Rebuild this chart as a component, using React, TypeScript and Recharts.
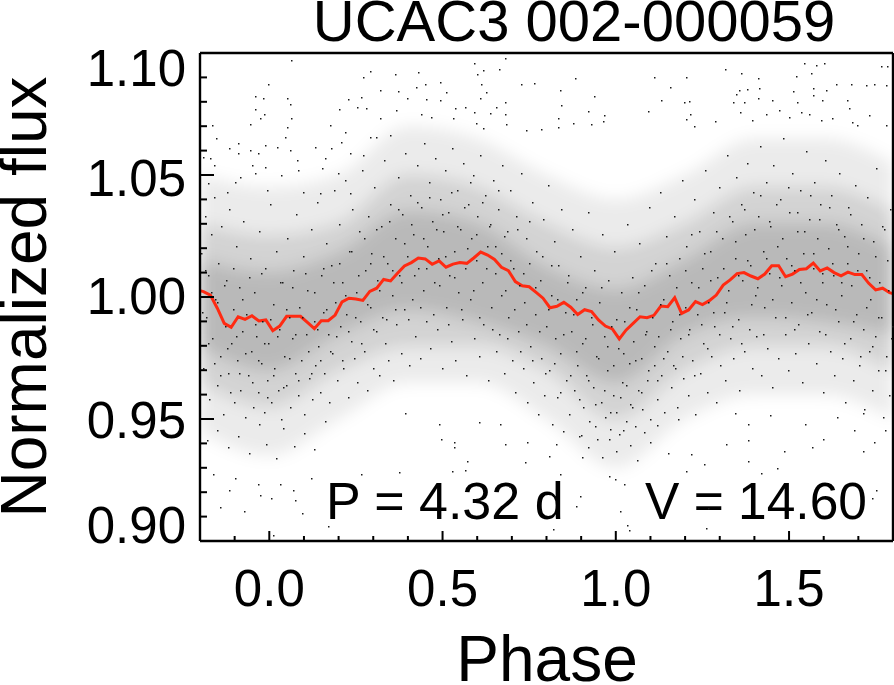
import { Area, ComposedChart, Line, Scatter, XAxis, YAxis } from "recharts";

// red running mean
const curve = [
  [-0.2,1.0026],[-0.19,1.0022],[-0.17,1.0008],[-0.15,0.9954],[-0.13,0.9892],[-0.11,0.9876],[-0.09,0.9919],[-0.07,0.9908],[-0.05,0.9923],[-0.03,0.9902],[-0.01,0.9906],
  [0.01,0.9862],[0.03,0.9881],[0.05,0.9921],[0.07,0.9921],[0.09,0.9921],[0.11,0.9896],[0.13,0.987],[0.15,0.9903],[0.17,0.9903],[0.19,0.9926],
  [0.21,0.998],[0.23,0.9995],[0.25,0.9992],[0.27,0.9986],[0.29,1.0023],[0.31,1.0036],[0.33,1.0072],[0.35,1.0066],[0.37,1.0097],[0.39,1.0127],
  [0.41,1.0141],[0.43,1.016],[0.45,1.0156],[0.47,1.0134],[0.49,1.0148],[0.51,1.0122],[0.53,1.0135],[0.55,1.0141],[0.57,1.0138],[0.59,1.016],
  [0.61,1.0184],[0.63,1.0172],[0.65,1.0154],[0.67,1.0122],[0.69,1.0108],[0.71,1.0063],[0.73,1.0046],[0.75,1.0042],[0.77,1.0019],[0.79,0.9995],
  [0.81,0.9956],[0.83,0.9962],[0.85,0.9978],[0.87,0.9958],[0.89,0.9928],[0.91,0.9948],[0.93,0.994],[0.95,0.9906],[0.97,0.9881],[0.99,0.9869],
  [1.01,0.9828],[1.03,0.9865],[1.05,0.9892],[1.07,0.9919],[1.09,0.9915],[1.11,0.9925],[1.13,0.9963],[1.15,0.996],[1.17,0.9997],[1.19,0.9933],
  [1.21,0.9947],[1.23,0.9981],[1.25,0.9969],[1.27,0.9985],[1.29,1.0008],[1.31,1.0049],[1.33,1.007],[1.35,1.0096],[1.37,1.01],[1.39,1.0086],
  [1.41,1.0075],[1.43,1.0094],[1.45,1.0128],[1.47,1.0128],[1.49,1.0083],[1.51,1.0094],[1.53,1.0113],[1.55,1.0116],[1.57,1.0139],[1.59,1.0107],
  [1.61,1.0119],[1.63,1.01],[1.65,1.0087],[1.67,1.0102],[1.69,1.0092],[1.71,1.0092],[1.73,1.0056],[1.75,1.0029],[1.77,1.0036],[1.79,1.0018],[1.8,1.0014],
];

// how far the stipple spreads at each phase: faint edge, mid tone, dark core
const bandPhase = [-0.2, 0, 0.2, 0.4, 0.6, 0.8, 1.0, 1.2, 1.4, 1.6, 1.8];
const wideLow = [0.945, 0.935, 0.95, 0.965, 0.965, 0.95, 0.93, 0.95, 0.96, 0.96, 0.95];
const wideHigh = [1.05, 1.045, 1.05, 1.07, 1.065, 1.05, 1.04, 1.05, 1.065, 1.065, 1.055];
const midLow = [0.965, 0.955, 0.97, 0.98, 0.98, 0.97, 0.95, 0.97, 0.98, 0.98, 0.97];
const midHigh = [1.03, 1.025, 1.03, 1.05, 1.045, 1.03, 1.02, 1.03, 1.045, 1.045, 1.035];
const coreLow = [0.98, 0.97, 0.985, 0.995, 0.99, 0.98, 0.965, 0.985, 0.992, 0.99, 0.985];
const coreHigh = [1.015, 1.01, 1.018, 1.035, 1.03, 1.012, 1.003, 1.015, 1.03, 1.03, 1.02];

// sparse points above the cloud
const upperPoints = [
  [.59,1.0961],[.616,1.093],[.6,1.0914],[.663,1.0933],[.681,1.0978],[.727,1.0875],[.765,1.0878],[.881,1.0899],[.839,1.0848],[.938,1.0825],
  [1.111,1.09],[1.204,1.09],[1.157,1.0862],[1.315,1.0933],[1.361,1.0916],[1.409,1.0896],[1.543,1.0957],[1.577,1.095],[1.601,1.096],[1.563,1.0916],
  [1.521,1.0905],[1.764,1.0946],[1.784,1.0946],[1.635,1.0875],[1.678,1.0875],[1.721,1.0869],[1.745,1.0871],[1.779,1.0869],[1.568,1.0855],[1.606,1.0848],
  [1.512,1.0845],[1.356,1.0848],[1.38,1.0852],[1.414,1.0855],[1.347,1.0834],[1.337,1.08],[1.371,1.0798],[1.409,1.0817],[1.45,1.0807],[1.524,1.0798],
  [1.568,1.0828],[1.596,1.0807],[1.668,1.0807],[1.673,1.0773],[1.13,1.0807],[1.198,1.0798],[1.212,1.0804],[1.094,1.0763],[1.214,1.0752],[1.204,1.0728],
  [.919,1.0762],[.967,1.0746],[.962,1.0721],[.833,1.0732],[.834,1.0695],[.842,1.0787],[.681,1.0798],[.655,1.078],[.612,1.0875],[.626,1.0841],
  [.607,1.0814],[.592,1.0759],[.636,1.0755],[.679,1.0752],[.564,1.078],[.535,1.0773],[.511,1.0841],[.494,1.0807],[.53,1.0732],[.597,1.0712],
  [.684,1.0709],[.616,1.0691],[1.359,1.0759],[1.394,1.0725],[1.433,1.0752],[1.471,1.0766],[1.534,1.0759],[1.558,1.0752],[1.591,1.0725],[1.683,1.0718],
  [1.697,1.0705],[1.731,1.0746],[1.779,1.0705],[1.625,1.0732],[1.5,1.0739],[1.287,1.0722],[1.226,1.07],[.741,1.0684],[.785,1.0687],[.876,1.0714],[.929,1.0709],
  [.062,1.0971],[-.003,1.0873],[.29,1.0927],[.271,1.0903],[.364,1.0912],[.429,1.0923],[.449,1.0875],[.494,1.088],[.372,1.0844],[.319,1.0848],
  [.424,1.0859],[-.041,1.0824],[-.017,1.0817],[.05,1.0814],[.059,1.0789],[-.041,1.077],[-.015,1.0752],[-.027,1.0732],[.064,1.0732],[.05,1.0698],
  [-.056,1.0711],[-.166,1.0705],[.228,1.0811],[.266,1.0821],[.252,1.078],[.201,1.077],[.28,1.0773],[.319,1.0732],[.396,1.0814],[.453,1.081],
  [.367,1.0766],[.439,1.0752],[.468,1.0739],[.175,1.0705],[.218,1.0677],[-.155,1.065],[-.116,1.0612],[-.089,1.063],[-.056,1.0602],[.045,1.0657],
  [.021,1.0613],[-.013,1.0623],[.133,1.0616],[.178,1.0609],[.208,1.0634],[.29,1.0657],[.309,1.0657],[.348,1.0664],[-.089,1.0589],[-.171,1.0568],
  [-.161,1.0541],[-.19,1.0575],[-.032,1.0591],[.059,1.0602],[.232,1.0589],[.271,1.0582],[-.051,1.0541],[-.013,1.0534],[.079,1.0561],[.16,1.0568],
  [.151,1.0527],[.199,1.0507],[-.085,1.0493],[-.041,1.0507],[.035,1.05],[.084,1.052],[-.176,1.0466],[-.123,1.0431],[-.099,1.0472],[-.008,1.0438],[.098,1.0431],[.232,1.0425],[.146,1.0425],
];

// sparse points below the cloud
const lowerPoints = [
  [-.072,.9121],[-.143,.9138],[-.117,.9207],[-.028,.919],[.004,.9176],[.074,.917],[.093,.9114],[.17,.9063],[.01,.9024],[.03,.9232],
  [.068,.9211],[.119,.926],[-.162,.9273],[-.098,.926],[-.034,.9232],[.266,.9273],[.374,.9284],[.527,.9287],[.565,.929],[.693,.9225],
  [.82,.9049],[.897,.9183],[.884,.9142],[1.012,.9121],[1.031,.9066],[1.037,.9045],[1.26,.9052],[1.267,.9135],[1.739,.9176],[1.752,.9211],
  [1.42,.928],[1.465,.9301],[.999,.9253],[.98,.9266],[1.024,.9232],[1.203,.9287],[1.382,.9329],[.533,.9405],[.533,.9384],[.495,.9419],
  [.572,.9329],[.68,.9398],[.744,.9405],[.827,.9398],[.808,.935],[.84,.9273],[.738,.9322],[.903,.9343],[1.567,.9384],[1.599,.9419],
  [1.713,.937],[1.745,.9405],[1.484,.937],[1.382,.9412],[1.318,.9398],[1.254,.9315],[1.216,.9356],[.393,.9523],[.489,.9481],[.604,.9488],
  [.667,.9481],[1.343,.9523],[1.382,.9481],[1.445,.9516],[1.547,.9481],[1.637,.9509],[1.713,.9523],[1.777,.9453],[1.688,.9453],
  [-.18,.9412],[-.15,.9453],[-.12,.9385],[-.09,.9431],[-.06,.9362],[-.03,.9478],[-.01,.9397],[.02,.9342],[.04,.9465],[.07,.9388],[.1,.9443],[.13,.9376],[.16,.9492],
  [.9,.9435],[.92,.9386],[.94,.9472],[.96,.9345],[.98,.9418],[1.0,.9367],[1.02,.9456],[1.04,.9392],[1.06,.9331],[1.08,.9448],[1.1,.9405],[1.12,.9476],[1.15,.9362],[1.18,.9498],
];

// the thick of the cloud, a hand estimate of where the dots lie
const corePoints = [
  [-.196,1.018],[-.191,.971],[-.187,1.033],[-.183,.992],[-.178,1.009],[-.174,.958],[-.169,1.026],[-.165,.983],[-.16,1.041],[-.156,.999],
  [-.151,.964],[-.147,1.014],[-.142,.976],[-.138,1.029],[-.133,.952],[-.129,.988],[-.124,1.007],[-.12,.969],[-.115,1.036],[-.111,.981],
  [-.106,.995],[-.102,.957],[-.097,1.021],[-.093,.974],[-.088,1.004],[-.084,.962],[-.079,.986],[-.075,1.031],[-.07,.951],[-.066,.993],
  [-.061,.968],[-.057,1.016],[-.052,.978],[-.048,.955],[-.043,1.002],[-.039,.984],[-.034,.961],[-.03,1.027],[-.025,.973],[-.021,.99],
  [-.016,.953],[-.012,1.012],[-.007,.966],[-.003,.981],[.002,1.038],[.006,.957],[.011,.997],[.015,.971],[.02,1.019],[.024,.962],
  [.029,.987],[.033,.95],[.038,1.006],[.042,.976],[.047,.964],[.051,1.024],[.056,.992],[.06,.955],[.065,.983],[.069,1.011],
  [.074,.969],[.078,1.034],[.083,.96],[.087,.996],[.092,.974],[.096,1.017],[.101,.952],[.105,.985],[.11,1.003],[.114,.967],
  [.119,1.028],[.123,.958],[.128,.99],[.132,.972],[.137,1.039],[.141,.98],[.146,.961],[.15,1.009],[.155,.994],[.159,.969],
  [.164,1.022],[.168,.985],[.173,.957],[.177,1.013],[.182,.977],[.186,1.044],[.191,.998],[.195,.966],[.2,1.03],[.204,.988],
  [.209,1.006],[.213,.971],[.218,1.048],[.222,.993],[.227,.959],[.231,1.019],[.236,.982],[.24,1.036],[.245,.975],[.249,1.002],
  [.254,.965],[.258,1.027],[.263,.99],[.267,1.052],[.272,.978],[.276,1.011],[.281,.962],[.285,1.033],[.29,.996],[.294,1.018],
  [.299,.971],[.303,1.045],[.308,.986],[.312,1.007],[.317,.968],[.321,1.029],[.326,.992],[.33,1.056],[.335,.981],[.339,1.014],
  [.344,.974],[.348,1.038],[.353,1.001],[.357,.966],[.362,1.024],[.366,.989],[.371,1.049],[.375,1.009],[.38,.977],[.384,1.034],
  [.389,.995],[.393,1.059],[.398,1.017],[.402,.972],[.407,1.042],[.411,.999],[.416,1.026],[.42,.984],[.425,1.054],[.429,1.012],
  [.434,.975],[.438,1.037],[.443,1.003],[.447,1.063],[.452,.99],[.456,1.021],[.461,1.047],[.465,.979],[.47,1.031],[.474,1.006],
  [.479,1.057],[.483,.987],[.488,1.016],[.492,1.04],[.497,.971],[.501,1.027],[.506,1.052],[.51,.996],[.515,1.035],[.519,1.009],
  [.524,.982],[.528,1.061],[.533,1.019],[.537,.974],[.542,1.044],[.546,1.002],[.551,1.028],[.555,.991],[.56,1.055],[.564,1.012],
  [.569,.968],[.573,1.038],[.578,.999],[.582,1.024],[.587,1.05],[.591,.983],[.596,1.015],[.6,1.033],[.605,.976],[.609,1.058],
  [.614,1.006],[.618,.989],[.623,1.042],[.627,1.021],[.632,.966],[.636,1.03],[.641,.996],[.645,1.048],[.65,1.01],[.654,.978],
  [.659,1.036],[.663,.985],[.668,1.018],[.672,1.054],[.677,.969],[.681,1.003],[.686,1.027],[.69,.992],[.695,1.044],[.699,.974],
  [.704,1.012],[.708,.961],[.713,1.033],[.717,.986],[.722,1.005],[.726,1.051],[.731,.971],[.735,.998],[.74,1.024],[.744,.957],
  [.749,1.014],[.753,.98],[.758,1.039],[.762,.965],[.767,.993],[.771,1.019],[.776,.952],[.78,1.007],[.785,.975],[.789,1.032],
  [.794,.96],[.798,.988],[.803,1.046],[.807,.97],[.812,1.001],[.816,.948],[.821,1.023],[.825,.983],[.83,.959],[.834,1.013],
  [.839,.977],[.843,1.036],[.848,.945],[.852,.994],[.857,.966],[.861,1.009],[.866,.952],[.87,.986],[.875,1.028],[.879,.962],
  [.884,.999],[.888,.972],[.893,.943],[.897,1.017],[.902,.981],[.906,.955],[.911,1.004],[.915,.968],[.92,1.035],[.924,.949],
  [.929,.992],[.933,.963],[.938,1.011],[.942,.976],[.947,.942],[.951,.998],[.956,.957],[.96,1.026],[.965,.984],[.969,.951],
  [.974,.97],[.978,1.007],[.983,.946],[.987,.988],[.992,.96],[.996,1.019],[1.001,.953],[1.005,.979],[1.01,.944],[1.014,1.002],
  [1.019,.965],[1.023,.99],[1.028,.949],[1.032,1.03],[1.037,.973],[1.041,.956],[1.046,1.008],[1.05,.982],[1.055,.947],[1.059,.995],
  [1.064,.962],[1.068,1.022],[1.073,.975],[1.077,.954],[1.082,1.005],[1.086,.986],[1.091,.966],[1.095,1.037],[1.1,.95],[1.104,.992],
  [1.109,.972],[1.113,1.014],[1.118,.958],[1.122,.984],[1.127,1.043],[1.131,.968],[1.136,.999],[1.14,.953],[1.145,1.025],[1.149,.978],
  [1.154,1.009],[1.158,.963],[1.163,.99],[1.167,1.033],[1.172,.971],[1.176,.955],[1.181,1.016],[1.185,.983],[1.19,1.048],[1.194,.967],
  [1.199,.996],[1.203,1.021],[1.208,.96],[1.212,.987],[1.217,1.006],[1.221,.974],[1.226,1.04],[1.23,.952],[1.235,.993],[1.239,1.027],
  [1.244,.969],[1.248,1.012],[1.253,.981],[1.257,1.052],[1.262,.961],[1.266,.998],[1.271,1.019],[1.275,.976],[1.28,1.035],[1.284,.988],
  [1.289,.957],[1.293,1.008],[1.298,1.045],[1.302,.972],[1.307,1.024],[1.311,.994],[1.316,.966],[1.32,1.058],[1.325,1.003],[1.329,.983],
  [1.334,1.031],[1.338,.975],[1.343,1.016],[1.347,1.049],[1.352,.991],[1.356,.962],[1.361,1.038],[1.365,1.007],[1.37,.978],[1.374,1.026],
  [1.379,1.055],[1.383,.987],[1.388,1.013],[1.392,.971],[1.397,1.043],[1.401,1.001],[1.406,.984],[1.41,1.033],[1.415,1.062],[1.419,.968],
  [1.424,1.019],[1.428,.996],[1.433,1.047],[1.437,.979],[1.442,1.01],[1.446,1.029],[1.451,.963],[1.455,1.054],[1.46,.992],[1.464,1.021],
  [1.469,.975],[1.473,1.04],[1.478,1.005],[1.482,1.065],[1.487,.985],[1.491,1.016],[1.496,.97],[1.5,1.035],[1.505,.998],[1.509,1.051],
  [1.514,1.011],[1.518,.977],[1.523,1.027],[1.527,.989],[1.532,1.044],[1.536,.965],[1.541,1.018],[1.545,1.002],[1.55,1.06],[1.554,.981],
  [1.559,1.032],[1.563,.994],[1.568,1.012],[1.572,1.047],[1.577,.973],[1.581,1.024],[1.586,.986],[1.59,1.038],[1.595,1.006],[1.599,.961],
  [1.604,1.056],[1.608,.997],[1.613,1.02],[1.617,.978],[1.622,1.042],[1.626,1.009],[1.631,.968],[1.635,1.03],[1.64,.99],[1.644,1.051],
  [1.649,1.001],[1.653,.975],[1.658,1.025],[1.662,.957],[1.667,1.014],[1.671,1.037],[1.676,.983],[1.68,1.005],[1.685,.966],[1.689,1.046],
  [1.694,.993],[1.698,1.018],[1.703,.972],[1.707,1.03],[1.712,.987],[1.716,.954],[1.721,1.011],[1.725,1.041],[1.73,.978],[1.734,.999],
  [1.739,.962],[1.743,1.023],[1.748,.984],[1.752,1.053],[1.757,.97],[1.761,1.006],[1.766,.992],[1.77,.951],[1.775,1.028],[1.779,.976],
  [1.784,1.015],[1.788,.96],[1.792,1.036],[1.796,.988],
];

// second pass over the darkest stretch close to the curve
const densePoints = [
  [-.193,.994],[-.185,1.011],[-.176,.981],[-.168,1.002],[-.159,.973],[-.15,.998],[-.141,.968],[-.132,1.005],[-.123,.979],[-.114,.961],
  [-.105,1.012],[-.096,.984],[-.087,.969],[-.078,.999],[-.069,.977],[-.06,1.008],[-.051,.965],[-.042,.989],[-.033,.974],[-.024,1.01],
  [-.015,.981],[-.006,.959],[.003,.991],[.012,.968],[.021,.984],[.03,1.006],[.039,.963],[.048,.995],[.057,.975],[.066,1.004],
  [.075,.985],[.084,.966],[.093,.992],[.102,1.01],[.111,.978],[.12,.969],[.129,1.002],[.138,.987],[.147,.974],[.156,1.012],
  [.165,.995],[.174,.978],[.183,1.006],[.192,.984],[.201,1.014],[.21,.974],[.219,1.001],[.228,.986],[.237,1.019],[.246,.992],
  [.255,1.009],[.264,.981],[.273,1.024],[.282,.997],[.291,1.014],[.3,.987],[.309,1.028],[.318,1.003],[.327,1.017],[.336,.991],
  [.345,1.031],[.354,1.011],[.363,.995],[.372,1.036],[.381,1.006],[.39,1.022],[.399,.991],[.408,1.03],[.417,1.009],[.426,1.039],
  [.435,.996],[.444,1.024],[.453,1.012],[.462,1.041],[.471,.993],[.48,1.028],[.489,1.005],[.498,1.034],[.507,1.017],[.516,.989],
  [.525,1.043],[.534,1.008],[.543,1.029],[.552,.995],[.561,1.037],[.57,1.02],[.579,1.047],[.588,1.003],[.597,1.026],[.606,.992],
  [.615,1.039],[.624,1.012],[.633,1.029],[.642,.987],[.651,1.021],[.66,1.044],[.669,1.001],[.678,1.025],[.687,.983],[.696,1.015],
  [.705,.995],[.714,1.028],[.723,.978],[.732,1.01],[.741,.989],[.75,1.031],[.759,.974],[.768,1.004],[.777,.986],[.786,1.017],
  [.795,.969],[.804,.995],[.813,1.013],[.822,.973],[.831,.999],[.84,.961],[.849,.985],[.858,1.006],[.867,.968],[.876,.993],
  [.885,.978],[.894,.958],[.903,1.002],[.912,.983],[.921,.966],[.93,.989],[.939,.956],[.948,.975],[.957,1.004],[.966,.962],
  [.975,.98],[.984,.953],[.993,.972],[1.002,.991],[1.011,.959],[1.02,.977],[1.029,.964],[1.038,.996],[1.047,.955],[1.056,.974],
  [1.065,1.002],[1.074,.961],[1.083,.985],[1.092,.97],[1.101,1.011],[1.11,.98],[1.119,.966],[1.128,.997],[1.137,.975],[1.146,1.014],
  [1.155,.987],[1.164,.972],[1.173,1.004],[1.182,.993],[1.191,.976],[1.2,1.011],[1.209,.985],[1.218,1.026],[1.227,.968],[1.236,1.004],
  [1.245,.989],[1.254,1.018],[1.263,.979],[1.272,1.007],[1.281,.994],[1.29,1.027],[1.299,.985],[1.308,1.012],[1.317,.998],[1.326,1.033],
  [1.335,.988],[1.344,1.023],[1.353,1.009],[1.362,.981],[1.371,1.036],[1.38,1.015],[1.389,.997],[1.398,1.028],[1.407,1.004],[1.416,1.042],
  [1.425,.985],[1.434,1.016],[1.443,1.031],[1.452,.999],[1.461,1.038],[1.47,1.008],[1.479,1.024],[1.488,.992],[1.497,1.045],[1.506,1.013],
  [1.515,.987],[1.524,1.035],[1.533,1.006],[1.542,1.027],[1.551,.993],[1.56,1.042],[1.569,1.018],[1.578,.999],[1.587,1.032],[1.596,1.01],
  [1.605,.985],[1.614,1.037],[1.623,1.014],[1.632,.995],[1.641,1.028],[1.65,1.006],[1.659,.981],[1.668,1.021],[1.677,1.034],[1.686,.99],
  [1.695,1.011],[1.704,.976],[1.713,1.024],[1.722,.996],[1.731,1.008],[1.74,.98],[1.749,1.017],[1.758,.992],[1.767,1.029],[1.776,.97],[1.785,1.003],[1.794,.983],
];

const xTicks = [-0.2,-0.1,0,0.1,0.2,0.3,0.4,0.5,0.6,0.7,0.8,0.9,1,1.1,1.2,1.3,1.4,1.5,1.6,1.7,1.8];
const xLabels: Record<string, string> = { "0.0": "0.0", "0.5": "0.5", "1.0": "1.0", "1.5": "1.5" };
const yTicks = [0.9,0.91,0.92,0.93,0.94,0.95,0.96,0.97,0.98,0.99,1,1.01,1.02,1.03,1.04,1.05,1.06,1.07,1.08,1.09,1.1];
const yLabels = ["0.90", "0.95", "1.00", "1.05", "1.10"];

const curveRows = curve.map(([phase, flux]) => ({ phase, flux }));
const dotRows = [...upperPoints, ...lowerPoints, ...corePoints, ...densePoints].map(([phase, flux]) => ({ phase, flux }));
const bandRows = bandPhase.map((phase, i) => ({
  phase,
  wide: [wideLow[i], wideHigh[i]],
  mid: [midLow[i], midHigh[i]],
  core: [coreLow[i], coreHigh[i]],
}));

const FONT = "'Liberation Sans', Arial, sans-serif";
const INK = "#000";

function BottomTick({ x, y, payload }: any) {
  const key = payload.value.toFixed(1);
  const major = key in xLabels;
  return (
    <g>
      <line x1={x} x2={x} y1={y} y2={y - (major ? 10 : 5)} stroke={INK} strokeWidth={2} />
      {major && (
        <text x={x} y={y + 65} textAnchor="middle" fontSize={51} fontFamily={FONT} fill={INK}>
          {xLabels[key]}
        </text>
      )}
    </g>
  );
}

function TopTick({ x, y, payload }: any) {
  const major = payload.value.toFixed(1) in xLabels;
  return <line x1={x} x2={x} y1={y} y2={y + (major ? 10 : 5)} stroke={INK} strokeWidth={2} />;
}

function LeftTick({ x, y, payload }: any) {
  const label = payload.value.toFixed(2);
  const major = yLabels.includes(label);
  // the end labels sit inside the frame, as in the original plot
  const shift = label === "1.10" ? 15 : label === "0.90" ? -16 : label === "1.05" ? 3 : label === "1.00" ? -1 : 1;
  return (
    <g>
      <line x1={x} x2={x + (major ? 14 : 7)} y1={y} y2={y} stroke={INK} strokeWidth={2} />
      {major && (
        <text x={186} y={y + shift + 18} textAnchor="end" fontSize={51} fontFamily={FONT} fill={INK}>
          {label}
        </text>
      )}
    </g>
  );
}

function RightTick({ x, y, payload }: any) {
  const major = yLabels.includes(payload.value.toFixed(2));
  return <line x1={x} x2={x - (major ? 14 : 7)} y1={y} y2={y} stroke={INK} strokeWidth={2} />;
}

function Speck({ cx, cy }: any) {
  return <rect x={Math.round(cx)} y={Math.round(cy)} width={1.5} height={1.5} fill="#1a1a1a" />;
}

const axisLine = { stroke: INK, strokeWidth: 2.4 };

export default function App() {
  return (
    <div style={{ position: "absolute", left: 0, top: 0, width: 894, height: 685, background: "#fff" }}>
      {/* css applies the blur first and the clip after it, so the soft bands stay inside the frame */}
      <style>{".soft-band { filter: blur(8px); clip-path: url(#plotClip); }"}</style>
      <svg width={0} height={0} style={{ position: "absolute" }}>
        <defs>
          <clipPath id="plotClip" clipPathUnits="userSpaceOnUse">
            <rect x={200} y={53} width={693} height={488} />
          </clipPath>
        </defs>
      </svg>
      <ComposedChart width={894} height={685} margin={{ top: 52, right: 0, bottom: 143, left: 199 }}>
        <XAxis dataKey="phase" type="number" domain={[-0.2, 1.8]} ticks={xTicks} interval={0} height={1} tickSize={0} tickMargin={0} tickLine={false} axisLine={axisLine} tick={BottomTick} />
        <XAxis xAxisId="top" orientation="top" dataKey="phase" type="number" domain={[-0.2, 1.8]} ticks={xTicks} interval={0} height={1} tickSize={0} tickMargin={0} tickLine={false} axisLine={axisLine} tick={TopTick} />
        <YAxis type="number" domain={[0.9, 1.1]} ticks={yTicks} interval={0} width={1} tickSize={0} tickMargin={0} tickLine={false} axisLine={axisLine} tick={LeftTick} />
        <YAxis yAxisId="right" orientation="right" type="number" domain={[0.9, 1.1]} ticks={yTicks} interval={0} width={1} tickSize={0} tickMargin={0} tickLine={false} axisLine={axisLine} tick={RightTick} />
        <Area className="soft-band" data={bandRows} dataKey="wide" type="monotone" stroke="none" fill="#000" fillOpacity={0.08} isAnimationActive={false} />
        <Area className="soft-band" data={bandRows} dataKey="mid" type="monotone" stroke="none" fill="#000" fillOpacity={0.1} isAnimationActive={false} />
        <Area className="soft-band" data={bandRows} dataKey="core" type="monotone" stroke="none" fill="#000" fillOpacity={0.12} isAnimationActive={false} />
        <Scatter data={dotRows} dataKey="flux" shape={Speck} isAnimationActive={false} />
        <Line data={curveRows} dataKey="flux" type="linear" stroke="#ff2a12" strokeWidth={3} dot={false} isAnimationActive={false} />
        <text x={574} y={41} textAnchor="middle" fontSize={58} fontFamily={FONT} fill={INK}>UCAC3 002-000059</text>
        <text x={547} y={681} textAnchor="middle" fontSize={64} fontFamily={FONT} fill={INK}>Phase</text>
        <text transform="translate(46,297) rotate(-90)" textAnchor="middle" fontSize={64} fontFamily={FONT} fill={INK}>Normalized flux</text>
        <text x={326} y={519} fontSize={52} fontFamily={FONT} fill={INK}>P = 4.32 d</text>
        <text x={645} y={519} fontSize={51.5} fontFamily={FONT} fill={INK}>V = 14.60</text>
      </ComposedChart>
    </div>
  );
}
